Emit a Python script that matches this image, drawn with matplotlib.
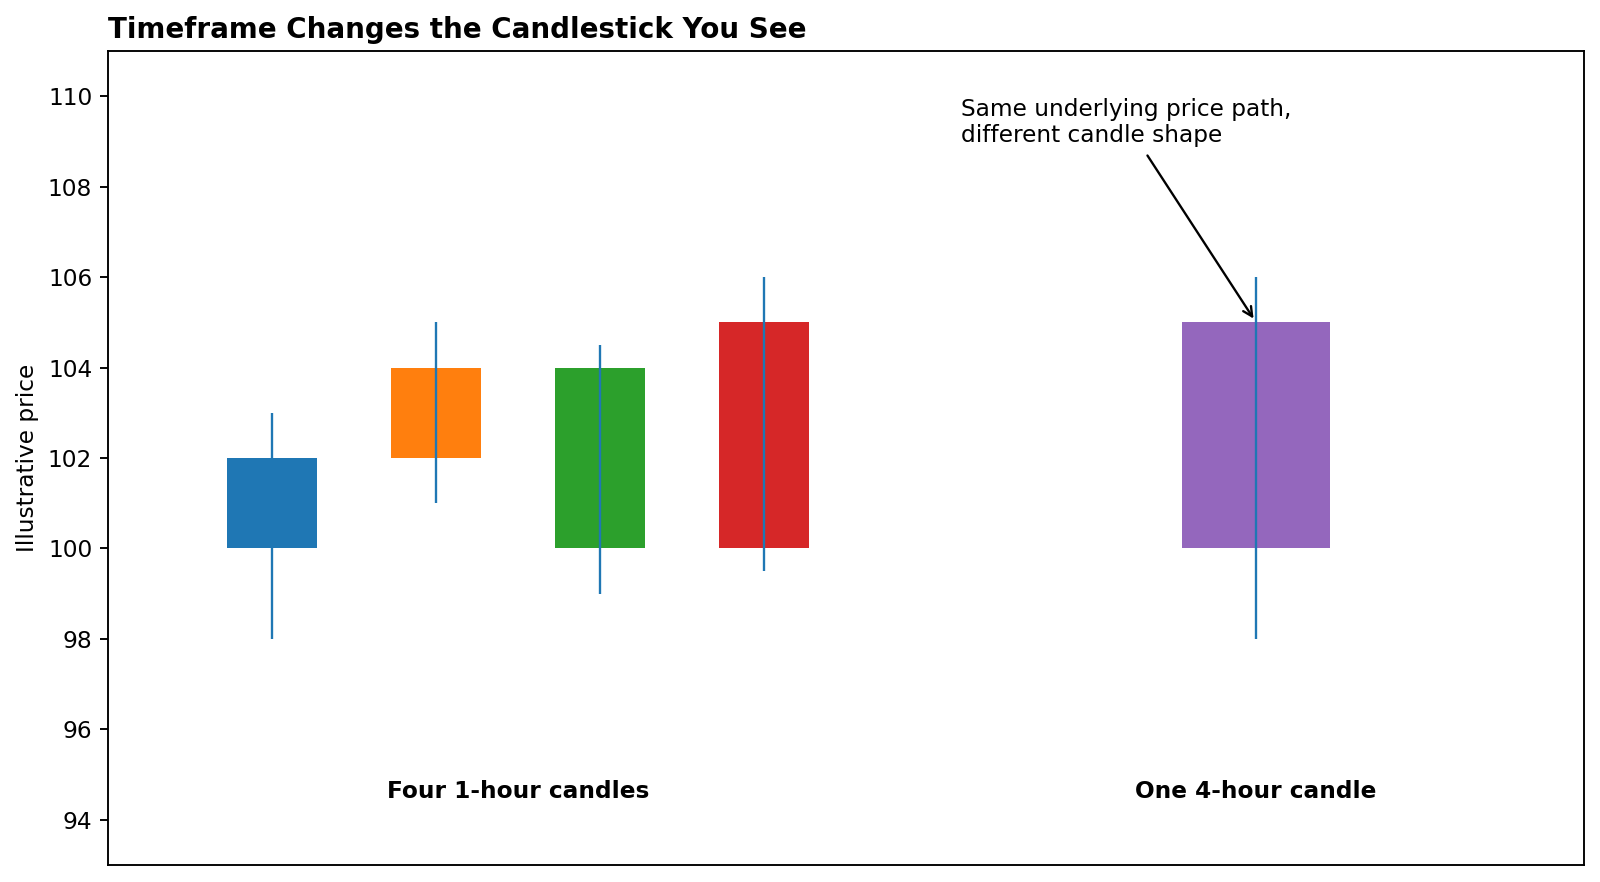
import matplotlib
matplotlib.use("Agg")
import matplotlib.pyplot as plt

# 1-hour candles
x_1h = [0, 1, 2, 3]
open_1h = [100, 102, 100, 100]
close_1h = [102, 104, 104, 105]
low_1h = [98, 101, 99, 99.5]
high_1h = [103, 105, 104.5, 106]
colors_1h = ["#1f77b4", "#ff7f0e", "#2ca02c", "#d62728"]

# 4-hour candle
x_4h = [6]
open_4h = [100]
close_4h = [105]
low_4h = [98]
high_4h = [106]
colors_4h = ["#9467bd"]

group_labels = ["Four 1-hour candles", "One 4-hour candle"]
group_x = [1.5, 6]

plt.rcParams["axes.linewidth"] = 0.85
plt.rcParams["ytick.major.width"] = 0.85
plt.rcParams["ytick.major.size"] = 3.6

fig = plt.figure(figsize=(10, 5.5125), dpi=160)
ax = fig.add_axes([0.0675, 0.0193, 0.9225, 0.9229])

bottoms = [min(o, c) for o, c in zip(open_1h, close_1h)]
heights = [abs(c - o) for o, c in zip(open_1h, close_1h)]
ax.bar(x_1h, heights, bottom=bottoms, width=0.55, color=colors_1h)
ax.vlines(x_1h, low_1h, high_1h, color="#1f77b4", linewidth=1.05)

bottoms4 = [min(o, c) for o, c in zip(open_4h, close_4h)]
heights4 = [abs(c - o) for o, c in zip(open_4h, close_4h)]
ax.bar(x_4h, heights4, bottom=bottoms4, width=0.9, color=colors_4h)
ax.vlines(x_4h, low_4h, high_4h, color="#1f77b4", linewidth=1.05)

for lbl, gx in zip(group_labels, group_x):
    ax.text(gx, 94.63, lbl, ha="center", va="center", fontsize=10.45, fontweight="bold")

ax.annotate("Same underlying price path,\ndifferent candle shape",
            xy=(6, 105), xytext=(4.2, 108.98),
            fontsize=10.45,
            arrowprops=dict(arrowstyle="->", color="black", linewidth=1.05))

ax.set_xlim(-1, 8)
ax.set_ylim(93, 111)
ax.set_xticks([])
ax.tick_params(axis="y", labelsize=10.45)
ax.set_ylabel("Illustrative price", fontsize=10.45)
ax.set_title("Timeframe Changes the Candlestick You See", loc="left",
             fontsize=12.5, fontweight="bold")

fig.savefig("out.png", dpi=160)
